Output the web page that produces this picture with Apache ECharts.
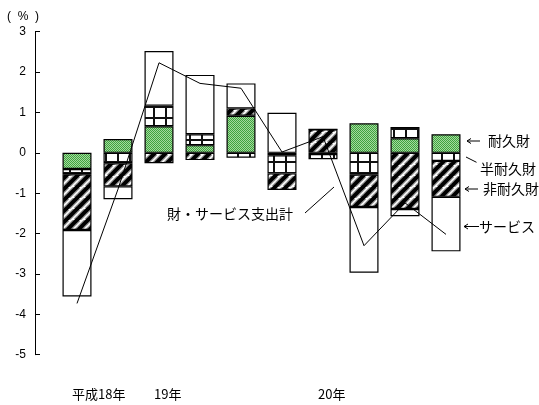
<!DOCTYPE html>
<html>
<head>
<meta charset="utf-8">
<script src="https://cdn.jsdelivr.net/npm/echarts@6/dist/echarts.min.js"></script>
<style>
html, body { margin: 0; padding: 0; background: #fff; }
#chart { width: 539px; height: 405px; }
</style>
</head>
<body>
<div id="chart"></div>
<script>
// Quarterly contributions to the change in household spending (%)
const categories = ['平成18年7-9月', '10-12月', '19年1-3月', '4-6月', '7-9月', '10-12月', '20年1-3月', '4-6月', '7-9月', '10-12月'];
const yearLabels = ['平成18年', '', '19年', '', '', '', '20年', '', '', ''];
const durable    = [-0.40,  0.34,  0.66,  0.19,  0.92, -0.06, -0.03,  0.73,  0.36,  0.46];
const semiDur    = [-0.13, -0.26,  0.51,  0.27, -0.12, -0.45, -0.13, -0.54,  0.28, -0.20];
const nonDur     = [-1.38, -0.57, -0.26, -0.18,  0.18, -0.41,  0.58, -0.80, -1.39, -0.89];
const services   = [-1.65, -0.32,  1.35,  1.47,  0.62,  0.99,  0.00, -1.63, -0.18, -1.35];
const total      = [-3.73, -0.90,  2.23,  1.72,  1.60,  0.02,  0.40, -2.30, -1.24, -2.02];
const yTicks     = { min: -5, max: 3, step: 1 };
const seriesNames = ['耐久財', '半耐久財', '非耐久財', 'サービス'];
const lineName = '財・サービス支出計';

const JP = "'Noto Sans CJK JP', sans-serif";
const LAT = "'Liberation Sans', Arial, sans-serif";

// fine green checker for durables
function dotTile() {
  const c = document.createElement('canvas');
  c.width = 2; c.height = 2;
  const g = c.getContext('2d');
  g.fillStyle = '#a4d99e'; g.fillRect(0, 0, 2, 2);
  g.fillStyle = '#3fa33f'; g.fillRect(0, 0, 1, 1); g.fillRect(1, 1, 1, 1);
  return c;
}
// open grid for semi-durables
function gridTile() {
  const c = document.createElement('canvas');
  c.width = 12; c.height = 11;
  const g = c.getContext('2d');
  g.fillStyle = '#fff'; g.fillRect(0, 0, 12, 11);
  g.fillStyle = '#111';
  g.fillRect(9, 0, 2, 11);
  g.fillRect(0, 7, 12, 2);
  return c;
}
// wide upward diagonal stripes for non-durables
function stripeTile() {
  const s = 11;
  const c = document.createElement('canvas');
  c.width = s; c.height = s;
  const g = c.getContext('2d');
  g.fillStyle = '#fff'; g.fillRect(0, 0, s, s);
  const draw = (w, col) => {
    g.strokeStyle = col; g.lineWidth = w;
    for (const o of [-s, 0, s]) {
      g.beginPath(); g.moveTo(o - 1, s + 1); g.lineTo(o + s + 1, -1); g.stroke();
    }
  };
  draw(6.4, '#9a9a9a');
  draw(4, '#000');
  return c;
}

const fills = [
  { image: dotTile(), repeat: 'repeat' },
  { image: gridTile(), repeat: 'repeat' },
  { image: stripeTile(), repeat: 'repeat' },
  '#ffffff'
];
const values = [durable, semiDur, nonDur, services];

const barSeries = values.map((d, i) => ({
  name: seriesNames[i],
  type: 'bar',
  stack: 'spend',
  barWidth: 29,
  data: d,
  itemStyle: { color: fills[i], borderColor: '#000', borderWidth: 1.2 },
  emphasis: { disabled: true },
  z: 2
}));

const chart = echarts.init(document.getElementById('chart'), null, { renderer: 'canvas' });

function txt(x, y, text, size, align) {
  return {
    type: 'text', x: x, y: y, silent: true,
    style: { text: text, fontSize: size, fontFamily: JP, fill: '#000', align: align || 'left', verticalAlign: 'middle' }
  };
}
function seg(x1, y1, x2, y2) {
  return { type: 'line', silent: true, shape: { x1, y1, x2, y2 }, style: { stroke: '#000', lineWidth: 1 } };
}
function arrow(x1, x2, y) {
  return [seg(x1, y, x2, y), {
    type: 'polyline', silent: true,
    shape: { points: [[x1 + 4, y - 2.5], [x1, y], [x1 + 4, y + 2.5]] },
    style: { stroke: '#000', lineWidth: 1, fill: null }
  }];
}

chart.setOption({
  animation: false,
  backgroundColor: '#fff',
  grid: { left: 56.5, right: 72.5, top: 31.7, bottom: 50.3 },
  xAxis: {
    type: 'category',
    data: categories,
    axisLine: { show: false, onZero: false },
    axisTick: { show: false },
    splitLine: { show: false },
    axisLabel: {
      interval: 0,
      margin: 33,
      formatter: (v, i) => yearLabels[i] ? '{t|' + yearLabels[i] + '}' : '',
      rich: { t: { width: 10, align: 'left', fontSize: 13, fontFamily: JP, color: '#000' } }
    }
  },
  yAxis: {
    type: 'value',
    min: yTicks.min, max: yTicks.max, interval: yTicks.step,
    offset: 21.5,
    axisLine: { show: true, lineStyle: { color: '#000', width: 1 } },
    axisTick: { show: true, inside: true, length: 5, lineStyle: { color: '#000', width: 1 } },
    splitLine: { show: false },
    axisLabel: { margin: 9, color: '#000', fontSize: 12, fontFamily: LAT }
  },
  series: barSeries.concat([{
    name: lineName,
    type: 'line',
    data: total,
    symbol: 'none',
    lineStyle: { color: '#000', width: 1 },
    emphasis: { disabled: true },
    z: 5
  }]),
  graphic: [
    { type: 'text', x: 7, y: 16.5, silent: true,
      style: { text: '(  %  )', fontSize: 12, fontFamily: LAT, fill: '#000', verticalAlign: 'middle' } },
    txt(488, 141, seriesNames[0], 14),
    txt(480, 169, seriesNames[1], 14),
    txt(483, 189, seriesNames[2], 14),
    txt(479, 226.5, seriesNames[3], 14),
    txt(167, 214, lineName, 14),
    seg(466, 157, 476.5, 162.3),
    seg(305, 213, 334, 187)
  ].concat(arrow(467, 480, 141), arrow(465, 478, 189), arrow(464, 479, 226.5))
});
</script>
</body>
</html>
